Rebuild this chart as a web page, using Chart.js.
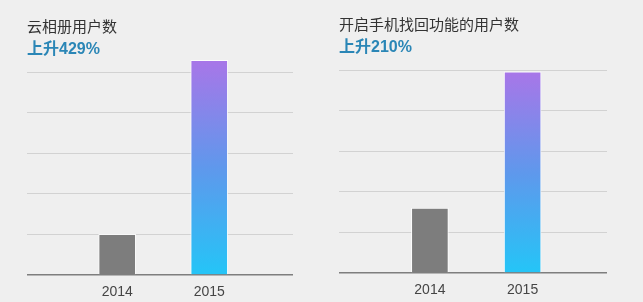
<!DOCTYPE html>
<html>
<head>
<meta charset="utf-8">
<script src="https://cdn.jsdelivr.net/npm/chart.js@4.4.1/dist/chart.umd.min.js"></script>
<style>
  html, body { margin: 0; padding: 0; background: #efefef; }
  body { width: 643px; height: 302px; position: relative; overflow: hidden; }
  .panel { position: absolute; }
  #p1 { left: 27px; top: 0; width: 266px; height: 302px; }
  #p2 { left: 339px; top: -2px; width: 268px; height: 302px; }
</style>
</head>
<body>
<div class="panel" id="p1"><canvas id="albumChart"></canvas></div>
<div class="panel" id="p2"><canvas id="findChart"></canvas></div>
<script>
// Categories
const years = ['2014', '2015'];

// Cloud album users (indexed, 2014 = 100)
const albumTitle = '云相册用户数';
const albumRise = '上升429%';
const albumUsers = [100, 529];

// Users of the find-my-phone feature (indexed)
const findTitle = '开启手机找回功能的用户数';
const findRise = '上升210%';
const findUsers = [160, 496];

// Value axis ticks
const yTicks = [0, 100, 200, 300, 400, 500];

const FONT = '"Liberation Sans", "Noto Sans CJK SC", Arial, sans-serif';

function barFill(ctx) {
  if (ctx.dataIndex === 0) return '#7d7d7d';
  const chart = ctx.chart;
  if (!chart.chartArea) return '#5f96ec';
  const y = chart.scales.y;
  const g = chart.ctx.createLinearGradient(0, y.getPixelForValue(0), 0, y.getPixelForValue(ctx.parsed.y));
  g.addColorStop(0, 'rgb(36,197,247)');
  g.addColorStop(0.5, 'rgb(95,152,236)');
  g.addColorStop(1, 'rgb(168,118,232)');
  return g;
}

function makeChart(id, title, rise, values) {
  return new Chart(document.getElementById(id), {
    type: 'bar',
    data: {
      datasets: [{
        data: values.map((v, i) => ({ x: i, y: v })),
        backgroundColor: barFill,
        borderColor: 'rgba(255,255,255,0.85)',
        borderWidth: 1,
        barThickness: 37,
        clip: false
      }]
    },
    options: {
      responsive: true,
      maintainAspectRatio: false,
      animation: false,
      layout: { padding: { left: 0, right: 0, top: 0, bottom: 2 } },
      plugins: {
        legend: { display: false },
        tooltip: { enabled: false },
        title: {
          display: true,
          text: title,
          align: 'start',
          color: '#333333',
          font: { family: FONT, size: 15, weight: 'normal' },
          padding: { top: 19, bottom: 3 }
        },
        subtitle: {
          display: true,
          text: rise,
          align: 'start',
          color: '#2a86b6',
          font: { family: FONT, size: 16, weight: 'bold' },
          padding: { top: 0, bottom: 13 }
        }
      },
      scales: {
        x: {
          type: 'linear',
          offset: false,
          bounds: 'data',
          min: -0.98,
          max: 1.91,
          grid: { display: false, drawTicks: false, offset: false },
          border: { display: false },
          afterBuildTicks: (scale) => { scale.ticks = years.map((_, i) => ({ value: i })); },
          afterFit: (scale) => { scale.height = 25; },
          ticks: {
            autoSkip: false,
            maxRotation: 0,
            minRotation: 0,
            padding: 9,
            color: '#454545',
            font: { family: FONT, size: 14 },
            callback: (v) => years[v]
          }
        },
        y: {
          min: yTicks[0],
          max: yTicks[yTicks.length - 1],
          afterBuildTicks: (scale) => { scale.ticks = yTicks.map(v => ({ value: v })); },
          ticks: { display: false },
          border: { display: false },
          grid: {
            drawTicks: false,
            color: (c) => c.tick && c.tick.value === 0 ? '#7e7e7e' : '#d2d2d2',
            lineWidth: (c) => c.tick && c.tick.value === 0 ? 1.5 : 1
          }
        }
      }
    }
  });
}

makeChart('albumChart', albumTitle, albumRise, albumUsers);
makeChart('findChart', findTitle, findRise, findUsers);
</script>
</body>
</html>
